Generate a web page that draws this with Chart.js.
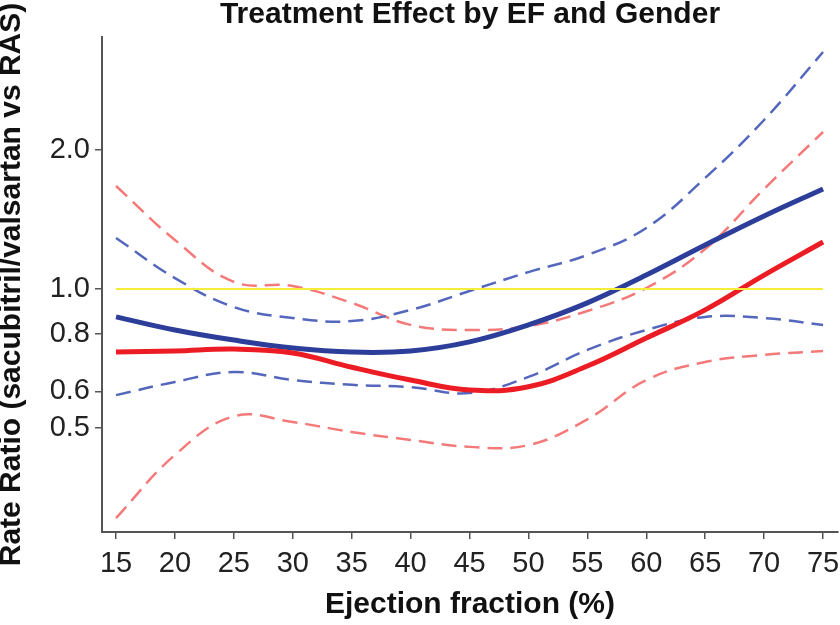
<!DOCTYPE html>
<html>
<head>
<meta charset="utf-8">
<script src="https://cdn.jsdelivr.net/npm/chart.js@4.4.1/dist/chart.umd.min.js"></script>
<style>
  html, body { margin: 0; padding: 0; background: #ffffff; }
  #wrap { width: 840px; height: 625px; }
</style>
</head>
<body>
<div id="wrap"><canvas id="c" width="840" height="625"></canvas></div>
<script>
// Ejection fraction (%) grid
const ejectionFraction = [15, 20, 25, 30, 35, 40, 45, 50, 55, 60, 65, 70, 75];
// Blue group: fitted rate ratio and 95% band
const blueFit   = [0.870, 0.815, 0.775, 0.745, 0.730, 0.734, 0.768, 0.836, 0.933, 1.072, 1.245, 1.439, 1.647];
const blueUpper = [1.290, 1.056, 0.914, 0.865, 0.852, 0.901, 0.990, 1.088, 1.185, 1.356, 1.740, 2.323, 3.261];
const blueLower = [0.589, 0.629, 0.661, 0.635, 0.620, 0.613, 0.595, 0.645, 0.738, 0.815, 0.870, 0.865, 0.836];
// Red group: fitted rate ratio and 95% band
const redFit    = [0.730, 0.734, 0.741, 0.727, 0.677, 0.635, 0.604, 0.614, 0.681, 0.783, 0.901, 1.072, 1.264];
const redUpper  = [1.671, 1.277, 1.036, 1.015, 0.933, 0.836, 0.815, 0.831, 0.896, 1.005, 1.221, 1.647, 2.188];
const redLower  = [0.319, 0.437, 0.530, 0.515, 0.490, 0.471, 0.455, 0.459, 0.522, 0.635, 0.695, 0.720, 0.734];
// Reference line
const referenceX = [15, 75];
const referenceY = [1.0, 1.0];
// Axis ticks
const xTicks = [15, 20, 25, 30, 35, 40, 45, 50, 55, 60, 65, 70, 75];
const yTicks = [0.5, 0.6, 0.8, 1.0, 2.0];

const FONT = "'Liberation Sans', Arial, Helvetica, sans-serif";
const pts = (xs, ys) => xs.map((x, i) => ({ x: x, y: ys[i] }));

const solid = (data, color, order) => ({
  data: data, borderColor: color, borderWidth: 5, pointRadius: 0,
  tension: 0.4, fill: false, order: order
});
const dashed = (data, color, order) => ({
  data: data, borderColor: color, borderWidth: 2.5, borderDash: [15, 8], pointRadius: 0,
  tension: 0.4, fill: false, order: order
});

new Chart(document.getElementById('c'), {
  type: 'line',
  data: {
    datasets: [
      { data: pts(referenceX, referenceY), borderColor: '#f4ee3a', borderWidth: 2, pointRadius: 0, order: 0 },
      solid(pts(ejectionFraction, redFit), '#ec1c24', 1),
      solid(pts(ejectionFraction, blueFit), '#2c3e99', 2),
      dashed(pts(ejectionFraction, blueUpper), '#5467bd', 3),
      dashed(pts(ejectionFraction, blueLower), '#5467bd', 3),
      dashed(pts(ejectionFraction, redUpper), '#f47a7a', 4),
      dashed(pts(ejectionFraction, redLower), '#f47a7a', 4)
    ]
  },
  options: {
    responsive: false,
    animation: false,
    devicePixelRatio: 1,
    layout: { padding: { left: 0, right: 2, top: 0, bottom: 0 } },
    plugins: {
      legend: { display: false },
      tooltip: { enabled: false },
      title: {
        display: true,
        text: 'Treatment Effect by EF and Gender',
        fullSize: false,
        color: '#111',
        font: { family: FONT, size: 30, weight: 'bold', lineHeight: 1.0 },
        padding: { top: 0, bottom: 7 }
      }
    },
    scales: {
      x: {
        type: 'linear',
        min: 13.81,
        max: 76.27,
        afterBuildTicks: s => { s.ticks = xTicks.map(v => ({ value: v })); },
        afterFit: s => { s.height = 93; s.paddingLeft = 0; s.paddingRight = 0; },
        ticks: {
          autoSkip: false, maxRotation: 0, padding: 8, color: '#222',
          font: { family: FONT, size: 29 },
          callback: v => String(v)
        },
        grid: { display: true, drawOnChartArea: false, drawTicks: true, tickLength: 7, color: '#555', lineWidth: 1.5 },
        border: { display: true, color: '#555', width: 2 },
        title: {
          display: true, text: 'Ejection fraction (%)', color: '#111',
          font: { family: FONT, size: 30, weight: 'bold', lineHeight: 1.0 },
          padding: { top: 0, bottom: 5 }
        }
      },
      y: {
        type: 'logarithmic',
        min: 0.2976,
        max: 3.514,
        afterBuildTicks: s => { s.ticks = yTicks.map(v => ({ value: v })); },
        afterFit: s => { s.width = 102; s.paddingTop = 0; s.paddingBottom = 0; },
        ticks: {
          autoSkip: false, padding: 5, color: '#222',
          font: { family: FONT, size: 29 },
          callback: v => Number(v).toFixed(1)
        },
        grid: { display: true, drawOnChartArea: false, drawTicks: true, tickLength: 7, color: '#555', lineWidth: 1.5 },
        border: { display: true, color: '#555', width: 2 },
        title: {
          display: true, text: 'Rate Ratio (sacubitril/valsartan vs RAS)', color: '#111',
          font: { family: FONT, size: 30, weight: 'bold', lineHeight: 0.8 },
          padding: { top: 0, bottom: 0 }
        }
      }
    }
  }
});
</script>
</body>
</html>
